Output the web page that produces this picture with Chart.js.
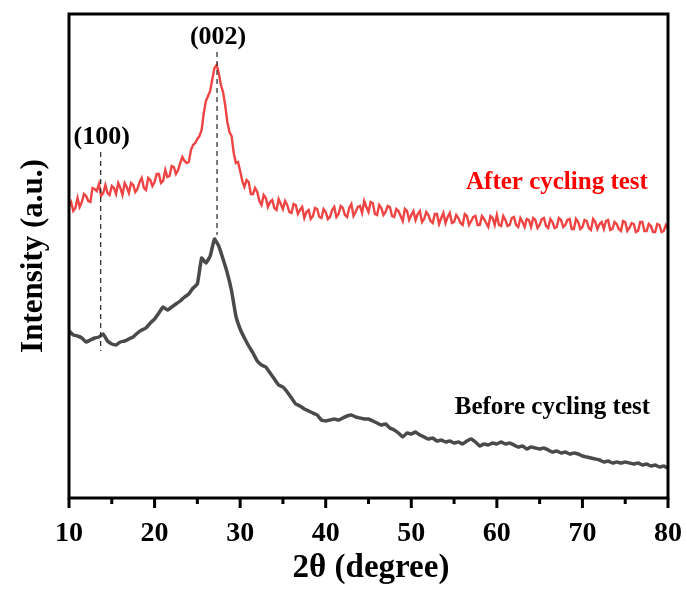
<!DOCTYPE html>
<html>
<head>
<meta charset="utf-8">
<script src="https://cdn.jsdelivr.net/npm/chart.js@4.4.1/dist/chart.umd.min.js"></script>
<style>
  html, body { margin: 0; padding: 0; background: #fff; }
  #wrap { width: 687px; height: 590px; position: relative; }
</style>
</head>
<body>
<div id="wrap"><canvas id="xrdChart"></canvas></div>
<script>
// 2theta grids (degree): noisy red scan every 0.25, smoothed black scan every 0.5
var thetaAfter = [];
for (var i = 0; i <= 280; i++) thetaAfter.push(10 + i * 0.25);
var thetaBefore = [];
for (var j = 0; j <= 140; j++) thetaBefore.push(10 + j * 0.5);

// intensity after cycling test (a.u., noisy trace)
var afterCycling = [
  292, 296, 287, 290, 300, 291, 296, 304, 302, 297, 296, 310, 309, 307, 314, 302, 305, 313, 305, 303,
  312, 310, 304, 315, 310, 303, 315, 311, 305, 315, 313, 306, 309, 316, 320, 310, 308, 320, 318, 312,
  316, 324, 324, 315, 317, 328, 321, 322, 332, 331, 324, 328, 335, 341, 337, 335, 336, 348, 353, 355,
  359, 362, 368, 385, 397, 402, 407, 419, 430, 433, 425, 413, 406, 393, 376, 366, 362, 345, 335, 336,
  327, 317, 311, 318, 316, 304, 304, 310, 306, 297, 293, 303, 300, 291, 296, 298, 290, 288, 299, 294,
  289, 297, 293, 286, 285, 294, 293, 284, 288, 291, 280, 286, 288, 279, 282, 290, 289, 281, 280, 289,
  286, 279, 281, 288, 291, 281, 284, 292, 290, 283, 281, 290, 294, 282, 286, 291, 292, 285, 297, 291,
  286, 296, 295, 284, 283, 293, 290, 283, 286, 292, 291, 282, 281, 289, 287, 282, 277, 289, 287, 278,
  283, 287, 278, 284, 287, 276, 279, 286, 283, 277, 275, 284, 284, 274, 280, 285, 275, 281, 285, 275,
  276, 283, 280, 275, 273, 284, 282, 273, 277, 281, 282, 273, 273, 282, 279, 275, 271, 282, 280, 273,
  283, 273, 272, 282, 278, 272, 273, 280, 281, 273, 271, 280, 276, 271, 279, 278, 271, 280, 278, 270,
  273, 279, 280, 272, 270, 279, 276, 270, 271, 280, 278, 271, 273, 278, 279, 269, 269, 279, 276, 269,
  271, 278, 277, 270, 268, 279, 276, 269, 274, 276, 269, 277, 278, 268, 269, 276, 274, 269, 267, 277,
  276, 267, 270, 275, 274, 266, 267, 276, 276, 267, 267, 274, 272, 266, 266, 274, 273, 266, 267, 273,
  270
];

// intensity before cycling test (a.u.)
var beforeCycling = [
  167, 163, 162, 160, 156, 158, 160, 161, 164, 157, 154, 153, 156, 157, 159, 161, 165, 168, 170, 175,
  179, 185, 191, 188, 191, 194, 197, 201, 204, 210, 214, 240, 235, 242, 259, 252, 239, 225, 207, 182,
  169, 160, 152, 145, 137, 133, 131, 125, 119, 113, 111, 106, 100, 94, 92, 89, 87, 85, 83, 78,
  77, 78, 79, 78, 80, 82, 83, 81, 80, 79, 79, 77, 75, 73, 74, 70, 68, 65, 61, 65,
  64, 66, 63, 61, 59, 60, 57, 58, 56, 57, 55, 56, 54, 57, 59, 56, 52, 54, 53, 55,
  54, 56, 54, 55, 53, 51, 52, 49, 51, 50, 49, 50, 48, 46, 47, 45, 46, 44, 45, 44,
  42, 41, 40, 39, 38, 36, 37, 35, 36, 35, 36, 35, 34, 35, 33, 34, 32, 33, 31, 32,
  30
];

var xTicks = [10, 20, 30, 40, 50, 60, 70, 80];
var minorTicks = [15, 25, 35, 45, 55, 65, 75];

// peak markers: 2theta, dashed line top/bottom (intensity), label
var peakPos = [13.7, 27.3];
var peakTop = [346, 446];
var peakBottom = [147, 263];
var peakLabels = ['(100)', '(002)'];

var serif = '"Liberation Serif", "Times New Roman", serif';

function toPoints(xs, ys) {
  return ys.map(function (v, k) { return { x: xs[k], y: v }; });
}

var decorations = {
  id: 'decorations',
  afterDatasetsDraw: function (chart) {
    var ctx = chart.ctx, a = chart.chartArea;
    var xs = chart.scales.x, ys = chart.scales.y;
    ctx.save();

    // dashed peak guides + labels
    ctx.strokeStyle = '#333';
    ctx.lineWidth = 1.3;
    ctx.setLineDash([5, 4]);
    peakPos.forEach(function (p, k) {
      var px = xs.getPixelForValue(p);
      ctx.beginPath();
      ctx.moveTo(px, ys.getPixelForValue(peakTop[k]));
      ctx.lineTo(px, ys.getPixelForValue(peakBottom[k]));
      ctx.stroke();
    });
    ctx.setLineDash([]);

    ctx.fillStyle = '#000';
    ctx.font = 'bold 26px ' + serif;
    ctx.textAlign = 'center';
    ctx.textBaseline = 'middle';
    peakLabels.forEach(function (t, k) {
      ctx.fillText(t, xs.getPixelForValue(peakPos[k]) + 1, ys.getPixelForValue(peakTop[k]) - 15);
    });

    // series labels
    ctx.font = 'bold 25px ' + serif;
    ctx.textAlign = 'right';
    ctx.fillStyle = '#ff0000';
    ctx.fillText('After cycling test', xs.getPixelForValue(77.65), ys.getPixelForValue(315));
    ctx.fillStyle = '#000';
    ctx.fillText('Before cycling test', xs.getPixelForValue(77.9), ys.getPixelForValue(90));

    // frame
    ctx.strokeStyle = '#000';
    ctx.lineWidth = 3;
    ctx.strokeRect(a.left, a.top, a.right - a.left, a.bottom - a.top);

    // bottom ticks (outward)
    xTicks.forEach(function (v) {
      var px = xs.getPixelForValue(v);
      ctx.beginPath(); ctx.moveTo(px, a.bottom); ctx.lineTo(px, a.bottom + 10); ctx.stroke();
    });
    minorTicks.forEach(function (v) {
      var px = xs.getPixelForValue(v);
      ctx.beginPath(); ctx.moveTo(px, a.bottom); ctx.lineTo(px, a.bottom + 6); ctx.stroke();
    });

    // axis titles
    ctx.fillStyle = '#000';
    ctx.textAlign = 'center';
    ctx.textBaseline = 'alphabetic';
    ctx.font = 'bold 33px ' + serif;
    ctx.fillText('2θ (degree)', 371, 577);
    ctx.font = 'bold 31px ' + serif;
    ctx.translate(42, 256);
    ctx.rotate(-Math.PI / 2);
    ctx.fillText('Intensity (a.u.)', 0, 0);
    ctx.restore();
  }
};

new Chart(document.getElementById('xrdChart'), {
  type: 'line',
  data: {
    datasets: [
      {
        label: 'After cycling test',
        data: toPoints(thetaAfter, afterCycling),
        borderColor: '#ef4444',
        borderWidth: 2.4,
        pointRadius: 0,
        tension: 0
      },
      {
        label: 'Before cycling test',
        data: toPoints(thetaBefore, beforeCycling),
        borderColor: '#4a4a4a',
        borderWidth: 3.5,
        pointRadius: 0,
        tension: 0.1
      }
    ]
  },
  plugins: [decorations],
  options: {
    responsive: true,
    maintainAspectRatio: false,
    animation: false,
    layout: { padding: { left: 69, right: 19, top: 14, bottom: 0 } },
    plugins: { legend: { display: false }, tooltip: { enabled: false } },
    scales: {
      x: {
        type: 'linear',
        min: 10,
        max: 80,
        afterFit: function (s) { s.height = 92; s.paddingLeft = 0; s.paddingRight = 0; },
        afterBuildTicks: function (s) { s.ticks = xTicks.map(function (v) { return { value: v }; }); },
        grid: { display: false, drawTicks: false },
        border: { display: false },
        ticks: {
          color: '#000',
          padding: 19,
          maxRotation: 0,
          font: { family: serif, size: 28, weight: 'bold' }
        }
      },
      y: {
        display: false,
        min: 0,
        max: 484
      }
    }
  }
});
</script>
</body>
</html>
